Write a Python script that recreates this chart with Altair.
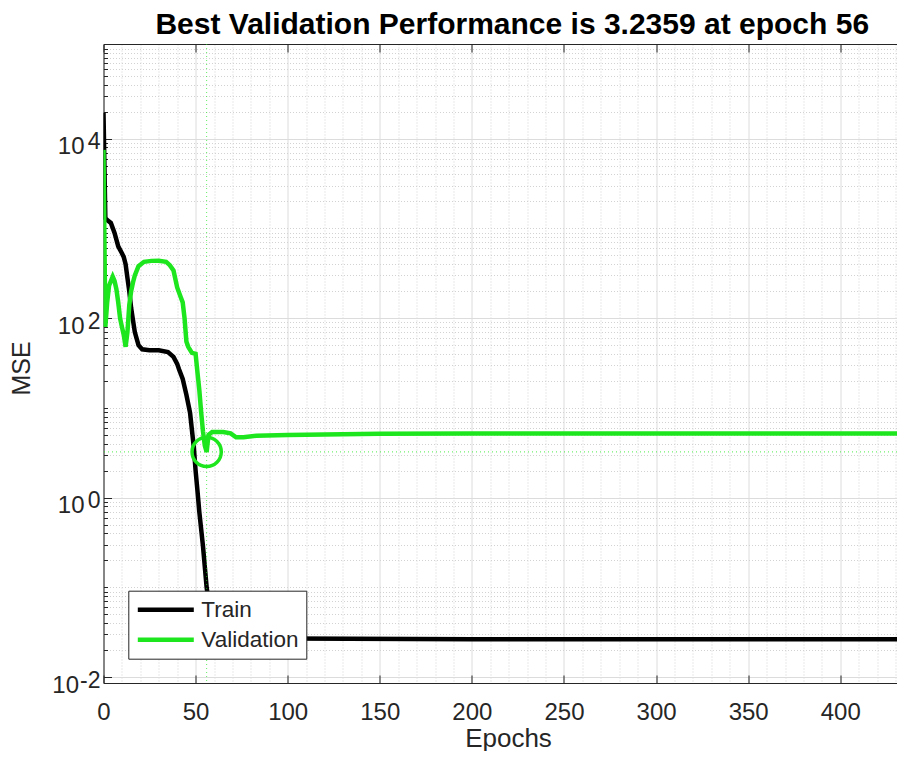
import altair as alt
import pandas as pd

# ---------------- data ----------------
train_epoch = [0, 1, 2, 4, 6, 8, 10, 11, 12, 13, 14, 15, 16, 17, 19, 21, 25, 30, 35, 38,
               40, 41, 43, 45, 47, 49, 50, 51, 52, 54, 56, 58, 60, 63, 70, 100, 200, 300, 435]
train_mse = [19500, 1300, 1240, 1150, 890, 630, 530, 480, 400, 280, 200, 130, 95, 70, 50, 45,
             44, 44, 42, 37, 31, 27, 21, 14, 8.8, 3.7, 2.0, 1.2, 0.7, 0.29, 0.1, 0.05, 0.035,
             0.03, 0.028, 0.027, 0.0265, 0.0265, 0.0265]

val_epoch = [0, 1, 2, 3, 5, 6, 7, 8, 9, 10, 11, 12, 13, 14, 15, 16, 17, 19, 22, 26, 30, 34,
             36, 38, 40, 42, 43, 44, 45, 46, 48, 50, 51, 52, 53, 54, 55, 56, 57, 59, 65, 69,
             72, 76, 83, 100, 150, 200, 300, 435]
val_mse = [7500, 80, 150, 230, 290, 260, 210, 150, 100, 80, 65, 48, 70, 140, 200, 250, 300,
           380, 425, 435, 436, 425, 390, 340, 220, 170, 150, 100, 55, 48, 41, 40, 25, 16, 9,
           5.5, 3.8, 3.2359, 5.0, 5.4, 5.4, 5.2, 4.7, 4.7, 4.9, 5.0, 5.15, 5.2, 5.2, 5.2]

best_epoch = 56
best_mse = 3.2359
title_text = "Best Validation Performance is 3.2359 at epoch 56"
series_names = ["Train", "Validation"]

x_labels = [0, 50, 100, 150, 200, 250, 300, 350, 400]
x_minor = [v for v in range(10, 431, 10) if v % 50 != 0]
y_labels = [0.01, 1, 100, 10000]
y_exponents = ["-2", "0", "2", "4"]
y_minor = sorted([m * 10.0 ** e for e in range(-2, 5) for m in range(2, 10)] + [0.1, 10, 1000, 100000])

# ---------------- styling ----------------
GREEN = "#1ee61e"
AX = "#262626"
FONT = "Liberation Sans"
W, H = 793.5, 639

xs = alt.Scale(domain=[0, 430.8], nice=False, zero=False)
ys = alt.Scale(type="log", domain=[10 ** -2.065, 10 ** 5.055], nice=False)

exp_expr = ("datum.value < 0.1 ? '" + y_exponents[0] + "' : datum.value < 10 ? '" + y_exponents[1]
            + "' : datum.value < 1000 ? '" + y_exponents[2] + "' : '" + y_exponents[3] + "'")

train = pd.DataFrame({"epoch": train_epoch, "mse": train_mse, "series": series_names[0]})
val = pd.DataFrame({"epoch": val_epoch, "mse": val_mse, "series": series_names[1]})
best = pd.DataFrame({"epoch": [best_epoch], "mse": [best_mse]})

color = alt.Color(
    "series:N",
    scale=alt.Scale(domain=series_names, range=["#000000", GREEN]),
    legend=alt.Legend(
        title=None, orient="none", legendX=24.8, legendY=546.7,
        fillColor="white", strokeColor=AX, padding=7, cornerRadius=0,
        symbolType="stroke", symbolStrokeWidth=4.5, symbolSize=3136,
        labelFontSize=22.5, labelFont=FONT, labelColor=AX, labelOffset=5,
        clipHeight=24, rowPadding=6,
    ),
)

# main axes
x_main = alt.Axis(orient="bottom", values=x_labels, grid=True, gridColor="#dcdcdc",
                  domain=True, domainColor=AX, ticks=False, tickSize=0,
                  labelFontSize=24, labelFont=FONT, labelColor=AX, labelBaseline="alphabetic",
                  labelPadding=36, labelFlush=False, labelOverlap=False,
                  title="Epochs", titleFontSize=26, titleFont=FONT, titleFontWeight="normal",
                  titleColor=AX, titleX=404.5, titleY=63, titleBaseline="alphabetic",
                  titleAlign="center")
y_main = alt.Axis(orient="left", values=y_labels, grid=True, gridColor="#dcdcdc",
                  domain=True, domainColor=AX, ticks=False, tickSize=0,
                  labelExpr="'10'", labelFontSize=24, labelFont=FONT, labelColor=AX,
                  labelPadding={"condition": {"test": "datum.value < 0.1", "value": 25},
                                "value": 19.5},
                  labelOffset=8, labelBaseline="middle", labelFlush=False, labelOverlap=False,
                  title="MSE", titleFontSize=25, titleFont=FONT, titleFontWeight="normal",
                  titleColor=AX, titleX=-81.8, titleY=324, titleAngle=270,
                  titleAlign="center", titleBaseline="middle")

l_train = alt.Chart(train).mark_line(strokeWidth=4.5, clip=True).encode(
    x=alt.X("epoch:Q", scale=xs, axis=x_main),
    y=alt.Y("mse:Q", scale=ys, axis=y_main),
    color=color,
)

# minor grid
l_val = alt.Chart(val).mark_line(strokeWidth=4.5, clip=True).encode(
    x=alt.X("epoch:Q", scale=xs,
            axis=alt.Axis(orient="bottom", values=x_minor, grid=True, gridColor="#d2d2d2",
                          gridDash=[1, 2], domain=False, ticks=False, labels=False, title=None)),
    y=alt.Y("mse:Q", scale=ys,
            axis=alt.Axis(orient="left", values=y_minor, grid=True, gridColor="#d2d2d2",
                          gridDash=[1, 2], domain=False, ticks=False, labels=False, title=None)),
    color=color,
)

# best point circle + inside major ticks
l_best = alt.Chart(best).mark_point(shape="circle", size=855, filled=False, strokeWidth=3.5,
                                    color=GREEN, opacity=1, clip=True).encode(
    x=alt.X("epoch:Q", scale=xs,
            axis=alt.Axis(orient="bottom", offset=-8, values=x_labels, ticks=True, tickSize=8,
                          tickColor=AX, domain=False, labels=False, grid=False, title=None)),
    y=alt.Y("mse:Q", scale=ys,
            axis=alt.Axis(orient="left", offset=-8, values=y_labels, ticks=True, tickSize=8,
                          tickColor=AX, domain=False, labels=False, grid=False, title=None)),
)

# dotted best-epoch guide (vertical) + top border
l_vline = alt.Chart(best).mark_rule(color=GREEN, strokeWidth=1, strokeDash=[1, 3],
                                    opacity=0.7).encode(
    x=alt.X("epoch:Q", scale=xs,
            axis=alt.Axis(orient="top", domain=True, domainColor=AX, ticks=False,
                          labels=False, grid=False, title=None)),
)

# dotted best-value guide (horizontal) + inside minor ticks
l_hline = alt.Chart(best).mark_rule(color=GREEN, strokeWidth=1, strokeDash=[1, 3],
                                    opacity=0.8).encode(
    y=alt.Y("mse:Q", scale=ys,
            axis=alt.Axis(orient="left", offset=-4, values=y_minor, ticks=True, tickSize=4,
                          tickColor=AX, domain=False, labels=False, grid=False, title=None)),
)

# top inside ticks + exponent labels of the y axis
l_top = alt.Chart(val).mark_line(opacity=0).encode(
    x=alt.X("epoch:Q", scale=xs,
            axis=alt.Axis(orient="top", offset=-8, values=x_labels, ticks=True, tickSize=8,
                          tickColor=AX, domain=False, labels=False, grid=False, title=None)),
    y=alt.Y("mse:Q", scale=ys,
            axis=alt.Axis(orient="left", values=y_labels, ticks=False, tickSize=0, domain=False,
                          grid=False, title=None, labelExpr=exp_expr, labelFontSize=23,
                          labelFont=FONT, labelColor=AX, labelPadding=3.5, labelOffset=3,
                          labelBaseline="middle", labelFlush=False, labelOverlap=False)),
)

chart = alt.layer(l_train, l_val, l_best, l_vline, l_hline, l_top).resolve_axis(
    x="independent", y="independent"
).properties(
    width=W, height=H,
    title=alt.TitleParams(text=title_text, fontSize=30, font=FONT, fontWeight="bold",
                          color="black", anchor="middle", frame="group", dx=12, dy=31,
                          offset=11, baseline="alphabetic"),
    autosize=alt.AutoSizeParams(type="none"),
    padding={"left": 95.5, "top": 36, "right": 0, "bottom": 68},
).configure_view(stroke=None).configure(background="white")

chart.save("out.html", embed_options={"renderer": "svg", "actions": False})
